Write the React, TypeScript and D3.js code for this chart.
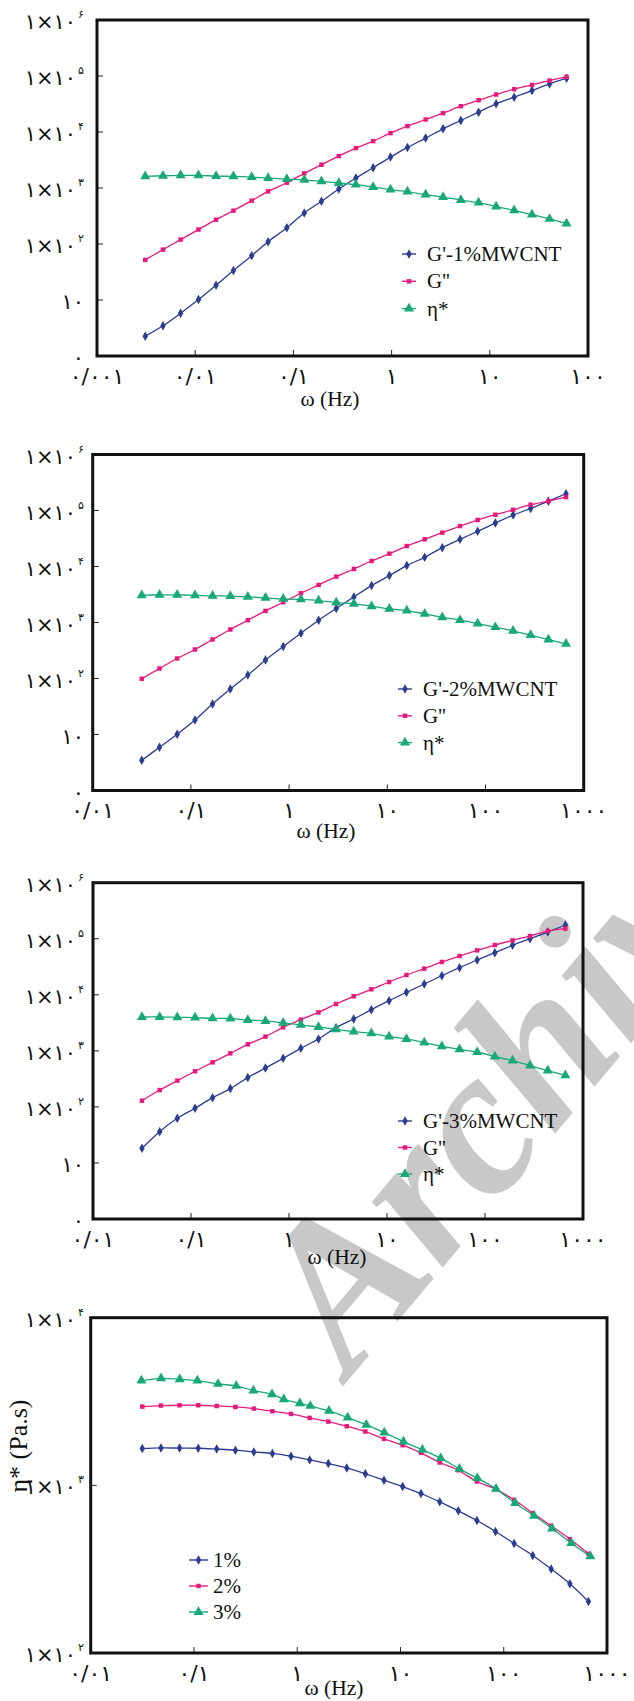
import * as d3 from "d3";

// frequency sweeps (Hz)
const freqA = [0.0031, 0.0047, 0.0071, 0.0108, 0.0163, 0.0245, 0.0376, 0.0553, 0.0857, 0.129, 0.193, 0.29, 0.433, 0.649, 0.975, 1.45, 2.22, 3.34, 5.07, 7.69, 11.6, 17.7, 26.9, 40.6, 60.5];
const freqB = [0.0316, 0.0479, 0.0725, 0.11, 0.166, 0.252, 0.38, 0.575, 0.871, 1.32, 2.0, 3.02, 4.57, 6.92, 10.5, 15.8, 24.0, 36.3, 55.0, 83.2, 126, 191, 288, 437, 661];
const freqC = [0.031, 0.048, 0.0728, 0.108, 0.171, 0.257, 0.376, 0.57, 0.741, 1.06, 1.34, 2.03, 3.08, 4.67, 6.96, 10.7, 16.3, 24.5, 37.2, 55.5, 84.2, 129, 197, 294, 451, 690];

// 1% MWCNT
const gp1 = [2.26, 3.46, 5.8, 10.2, 18.4, 33.6, 62, 110, 196, 358, 578, 959, 1507, 2301, 3565, 5300, 7780, 11400, 16060, 22600, 31800, 41800, 55000, 72300, 91200];
const gpp1 = [52, 79.4, 120, 181, 272, 394, 594, 871, 1242, 1823, 2600, 3715, 5155, 6870, 9550, 12730, 16720, 21700, 28900, 37000, 46700, 58100, 69400, 83000, 96400];
const eta1 = [1611, 1655, 1680, 1680, 1630, 1611, 1560, 1500, 1445, 1400, 1312, 1227, 1145, 1040, 933, 860, 760, 690, 610, 547, 464, 399, 334, 280, 231];

// 2% MWCNT
const gp2 = [3.46, 5.9, 10.1, 18.1, 35, 64.7, 115, 213, 373, 645, 1099, 1775, 2864, 4560, 6875, 10370, 14600, 21700, 30560, 42400, 59700, 82900, 109000, 147000, 199000];
const gpp2 = [98.9, 151, 228, 330, 497, 750, 1099, 1611, 2300, 3327, 4685, 6600, 9030, 12550, 16950, 23200, 30560, 40200, 52800, 67600, 84100, 103000, 127000, 147000, 173000];
const eta2 = [3070, 3110, 3110, 3070, 2990, 2960, 2864, 2750, 2637, 2580, 2466, 2270, 2150, 1953, 1750, 1634, 1425, 1242, 1099, 958, 824, 709, 594, 497, 416];

// 3% MWCNT
const gp3 = [18.3, 36.2, 62.6, 94.4, 146, 212, 333, 495, 736, 1110, 1629, 2594, 3700, 5430, 7850, 11060, 15590, 21940, 30480, 41800, 56400, 76200, 100200, 131800, 175800];
const gpp3 = [129, 200, 294, 432, 624, 903, 1308, 1793, 2630, 3600, 4866, 6850, 9390, 12530, 16920, 22550, 29250, 38500, 49200, 62100, 77300, 93600, 111900, 137400, 151300];
const eta3 = [4018, 4018, 3963, 3908, 3802, 3780, 3554, 3412, 3150, 2900, 2666, 2421, 2200, 2055, 1793, 1629, 1400, 1205, 1065, 954, 788, 668, 545, 443, 366];

// complex viscosity comparison
const etaCmp1 = [1658, 1673, 1668, 1665, 1645, 1620, 1582, 1551, 1492, 1419, 1349, 1271, 1171, 1073, 984, 894, 797, 705, 617, 531, 450, 382, 317, 259, 203];
const etaCmp2 = [2949, 2990, 3004, 3004, 2973, 2936, 2870, 2766, 2667, 2525, 2401, 2252, 2094, 1893, 1735, 1562, 1368, 1231, 1054, 949, 820, 683, 574, 478, 391];
const etaCmp3 = [4213, 4350, 4291, 4213, 4025, 3916, 3673, 3493, 3261, 3087, 2976, 2780, 2537, 2294, 2065, 1825, 1628, 1452, 1254, 1103, 953, 783, 658, 553, 452, 377];

// tick labels (Persian digits)
const xTicksA = [0.001, 0.01, 0.1, 1, 10, 100];
const xLabelsA = ["۰/۰۰۱", "۰/۰۱", "۰/۱", "۱", "۱۰", "۱۰۰"];
const xTicksB = [0.01, 0.1, 1, 10, 100, 1000];
const xLabelsB = ["۰/۰۱", "۰/۱", "۱", "۱۰", "۱۰۰", "۱۰۰۰"];
const yTicksA = [1, 10, 1e2, 1e3, 1e4, 1e5, 1e6];
const yBaseA = ["۰", "۱۰", "۱×۱۰", "۱×۱۰", "۱×۱۰", "۱×۱۰", "۱×۱۰"];
const yExpA = ["", "", "۲", "۳", "۴", "۵", "۶"];
const yTicksB = [1e2, 1e3, 1e4];
const yBaseB = ["۱×۱۰", "۱×۱۰", "۱×۱۰"];
const yExpB = ["۲", "۳", "۴"];

const BLUE = "#2b3d91";
const PINK = "#e8197d";
const GREEN = "#19a978";
const SERIF = "'Liberation Serif', 'Times New Roman', serif";
const DIGITS = "'DejaVu Sans', sans-serif";

const marks: Record<string, string> = {
  diamond: d3.symbol(d3.symbolDiamond, 26)() as string,
  square: d3.symbol(d3.symbolSquare, 20)() as string,
  triangle: d3.symbol(d3.symbolTriangle, 44)() as string,
};

type Series = { x: number[]; y: number[]; color: string; mark: string; label: string };

type PanelProps = {
  box: [number, number, number, number]; // left, right, top, bottom
  xTicks: number[];
  xLabels: string[];
  yTicks: number[];
  yBase: string[];
  yExp: string[];
  series: Series[];
  legend: { x: number; y: number; len: number; gap: number; step: number };
  title: { x: number; y: number };
};

function Panel({ box, xTicks, xLabels, yTicks, yBase, yExp, series, legend, title }: PanelProps) {
  const [left, right, top, bottom] = box;
  const x = d3.scaleLog().domain([xTicks[0], xTicks[xTicks.length - 1]]).range([left, right]);
  const y = d3.scaleLog().domain([yTicks[0], yTicks[yTicks.length - 1]]).range([bottom, top]);
  const line = d3
    .line<[number, number]>()
    .x((d) => x(d[0]))
    .y((d) => y(d[1]))
    .curve(d3.curveCatmullRom.alpha(0.5));

  return (
    <g>
      {series.map((s, i) => {
        const pts = s.x.map((f, j) => [f, s.y[j]] as [number, number]);
        return (
          <g key={i}>
            <path d={line(pts) || ""} fill="none" stroke={s.color} strokeWidth={1.3} />
            {pts.map((d, j) => (
              <path key={j} d={marks[s.mark]} transform={`translate(${x(d[0])},${y(d[1])})`} fill={s.color} />
            ))}
          </g>
        );
      })}

      {/* ticks */}
      {xTicks.slice(1, -1).map((t) => (
        <line key={t} x1={x(t)} x2={x(t)} y1={bottom} y2={bottom - 6} stroke="#222" strokeWidth={1} />
      ))}
      {yTicks.slice(1, -1).map((t) => (
        <line key={t} x1={left} x2={left + 6} y1={y(t)} y2={y(t)} stroke="#222" strokeWidth={1} />
      ))}
      <rect x={left} y={top} width={right - left} height={bottom - top} fill="none" stroke="#111" strokeWidth={3} />

      {xTicks.map((t, i) => (
        <text key={t} x={x(t)} y={bottom + 27.5} textAnchor="middle" fontFamily={DIGITS} fontSize={22} fill="#111">
          {xLabels[i]}
        </text>
      ))}
      {yTicks.map((t, i) => (
        <text key={t} x={84} y={y(t) + 9} textAnchor="end" fontFamily={DIGITS} fontSize={21} fill="#111">
          {yBase[i]}
          {yExp[i] && (
            <tspan dx={2} dy={-11} fontSize={11}>
              {yExp[i]}
            </tspan>
          )}
        </text>
      ))}

      {/* legend */}
      {series.map((s, i) => {
        const ly = legend.y + i * legend.step;
        return (
          <g key={s.label}>
            <line x1={legend.x} x2={legend.x + legend.len} y1={ly} y2={ly} stroke={s.color} strokeWidth={1.4} />
            <path d={marks[s.mark]} transform={`translate(${legend.x + legend.len / 2},${ly})`} fill={s.color} />
            <text x={legend.x + legend.len + legend.gap} y={ly + 7} fontFamily={SERIF} fontSize={21} fill="#111">
              {s.label}
            </text>
          </g>
        );
      })}

      <text x={title.x} y={title.y} textAnchor="middle" fontFamily={SERIF} fontSize={21.5} fill="#111">
        ω (Hz)
      </text>
    </g>
  );
}

export default function App() {
  return (
    <svg width={634} height={1701} style={{ position: "absolute", left: 0, top: 0, background: "#fff" }}>
      <text
        transform="translate(350,1378) rotate(-50)"
        fontFamily={SERIF}
        fontWeight="bold"
        fontStyle="italic"
        fontSize={210}
        fill="#c8c8c8"
      >
        Archive
      </text>

      <Panel
        box={[97, 588, 20, 356]}
        xTicks={xTicksA}
        xLabels={xLabelsA}
        yTicks={yTicksA}
        yBase={yBaseA}
        yExp={yExpA}
        series={[
          { x: freqA, y: gp1, color: BLUE, mark: "diamond", label: "G'-1%MWCNT" },
          { x: freqA, y: gpp1, color: PINK, mark: "square", label: "G''" },
          { x: freqA, y: eta1, color: GREEN, mark: "triangle", label: "η*" },
        ]}
        legend={{ x: 402, y: 254, len: 14, gap: 11, step: 27.3 }}
        title={{ x: 330, y: 406 }}
      />
      <Panel
        box={[92.7, 583.7, 454.5, 790.5]}
        xTicks={xTicksB}
        xLabels={xLabelsB}
        yTicks={yTicksA}
        yBase={yBaseA}
        yExp={yExpA}
        series={[
          { x: freqB, y: gp2, color: BLUE, mark: "diamond", label: "G'-2%MWCNT" },
          { x: freqB, y: gpp2, color: PINK, mark: "square", label: "G''" },
          { x: freqB, y: eta2, color: GREEN, mark: "triangle", label: "η*" },
        ]}
        legend={{ x: 398, y: 689, len: 14, gap: 11, step: 26.8 }}
        title={{ x: 326, y: 838 }}
      />
      <Panel
        box={[93, 583, 882.7, 1219]}
        xTicks={xTicksB}
        xLabels={xLabelsB}
        yTicks={yTicksA}
        yBase={yBaseA}
        yExp={yExpA}
        series={[
          { x: freqB, y: gp3, color: BLUE, mark: "diamond", label: "G'-3%MWCNT" },
          { x: freqB, y: gpp3, color: PINK, mark: "square", label: "G''" },
          { x: freqB, y: eta3, color: GREEN, mark: "triangle", label: "η*" },
        ]}
        legend={{ x: 398, y: 1121, len: 14, gap: 11, step: 26.5 }}
        title={{ x: 337, y: 1264 }}
      />
      <Panel
        box={[90.7, 607, 1317.7, 1653]}
        xTicks={xTicksB}
        xLabels={xLabelsB}
        yTicks={yTicksB}
        yBase={yBaseB}
        yExp={yExpB}
        series={[
          { x: freqB, y: etaCmp1, color: BLUE, mark: "diamond", label: "1%" },
          { x: freqB, y: etaCmp2, color: PINK, mark: "square", label: "2%" },
          { x: freqC, y: etaCmp3, color: GREEN, mark: "triangle", label: "3%" },
        ]}
        legend={{ x: 189, y: 1560, len: 19, gap: 5, step: 26 }}
        title={{ x: 334, y: 1695 }}
      />
      <text
        transform="translate(27,1446) rotate(-90)"
        textAnchor="middle"
        fontFamily={SERIF}
        fontSize={26}
        fill="#111"
      >
        η* (Pa.s)
      </text>
    </svg>
  );
}
